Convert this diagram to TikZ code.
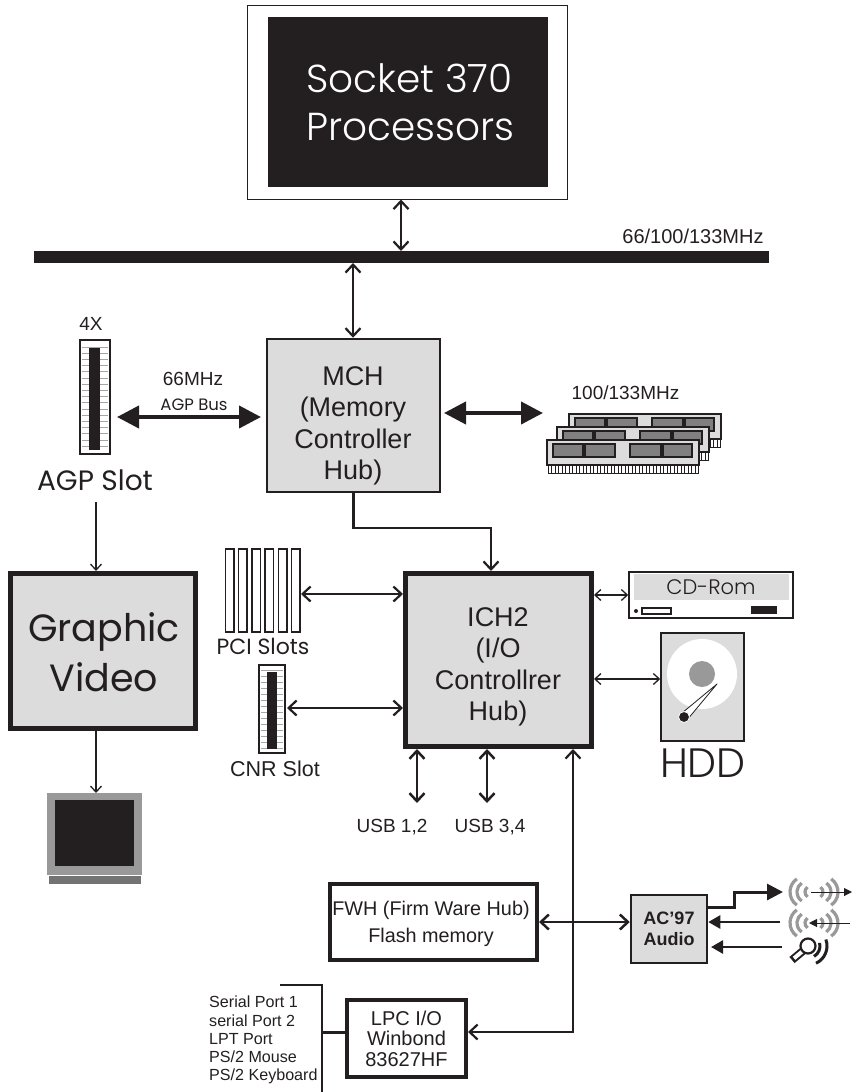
\documentclass[tikz,border=0pt]{standalone}
\usepackage{fontspec}
\setmainfont{Liberation Sans}
\newfontfamily\widefont{Poppins}[UprightFont=* Light]
\newfontfamily\solidfont{Poppins}
\usetikzlibrary{arrows.meta}
\definecolor{ink}{HTML}{231F20}
\definecolor{chipgray}{HTML}{DCDCDC}
\tikzset{
    box/.style={draw=ink,fill=chipgray,line width=2.5pt,outer sep=1.25pt,inner sep=0pt,text=ink,align=center},
    heavybox/.style={box,line width=5pt,outer sep=2.5pt},
    plainbox/.style={box,fill=white,line width=4pt,outer sep=2pt},
    tag/.style={text=ink,align=center,inner sep=0pt},
    widetag/.style={tag,font=\widefont},
    thinlink/.style={draw=ink,line width=1.3pt,>={Straight Barb[length=6pt,width=11pt]}},
    link/.style={draw=ink,line width=2.2pt,>={Straight Barb[length=8pt,width=15pt]}},
    biglink/.style={draw=ink,line width=4pt,>={Triangle[length=22pt,width=22pt]}},
    midlink/.style={draw=ink,line width=2.5pt,>={Triangle[length=12pt,width=13pt]}},
    outlink/.style={draw=ink,line width=3pt,>={Triangle[length=16pt,width=16pt]}},
    wave/.style={draw=black!40,line width=3.2pt},
}
\begin{document}
\begin{tikzpicture}[x=1pt,y=-1pt]
    \useasboundingbox (0,0) rectangle (853,1092);
    % processor
    \node[box,fill=white,line width=1pt,outer sep=.5pt,minimum width=320,minimum height=194] (socket) at (407,102) {};
    \node[fill=ink,minimum width=280,minimum height=170,inner sep=0pt,text=white,align=left,
        font=\widefont\fontsize{39}{48}\selectfont] (socketcore) at (408,102) {};
    \node[anchor=west,text=white,align=left,inner sep=0pt,
        font=\widefont\fontsize{39}{48}\selectfont] (sockettext) at (306,102) {Socket 370\\Processors};
    \node[fill=ink,minimum width=735,minimum height=12,inner sep=0pt,outer sep=0pt] (bus) at (401.5,257) {};
    \node[tag,font=\fontsize{20}{22}\selectfont] (fsb) at (693,236) {66/100/133MHz};
    \coordinate (busup) at (401,251);
    \coordinate (busdown) at (353,263);
    \draw[link,<->] (socket.south -| busup) -- (busup);

    % north side
    \node[box,minimum width=173,minimum height=153] (mch) at (353.5,415.5) {};
    \node[tag,font=\fontsize{27}{31.5}\selectfont] (mchtext) at (353,426) {MCH\\(Memory\\Controller\\Hub)};
    \draw[link,<->] (busdown) -- (mch.north -| busdown);

    \node[box,fill=white,outer sep=1.25pt,minimum width=30,minimum height=114] (agp) at (95,397) {};
    \foreach \i in {0,...,16} {
        \draw[black!35,line width=.8pt] (82,347+6.2*\i) -- (108,347+6.2*\i);
    }
    \node[fill=ink,minimum width=11,minimum height=102,inner sep=0pt] (agpcore) at (94.5,399) {};
    \node[tag,font=\fontsize{19}{22}\selectfont] (agpspeed) at (91,324) {4X};
    \node[tag,font=\solidfont\fontsize{28}{32}\selectfont] (agpname) at (95,480) {AGP Slot};
    \node[tag,font=\fontsize{19}{22}\selectfont] (agpclock) at (193,379) {66MHz};
    \node[tag,font=\solidfont\fontsize{16.5}{18}\selectfont] (agpbus) at (194,405) {AGP Bus};
    \coordinate (agpmid) at (117,417);
    \coordinate (mchleft) at (261,417);
    \draw[biglink,<->] (agpmid) -- (mchleft);

    \coordinate (mchright) at (444,413);
    \coordinate (ramport) at (543,413);
    \draw[biglink,<->] (mchright) -- (ramport);
    \node[tag,font=\fontsize{19}{22}\selectfont] (ramclock) at (625.5,393) {100/133MHz};
    \foreach \x/\y in {569/414,557/427,547/440} {
        \begin{scope}[shift={(\x,\y)}]
            \draw[ink,fill=white,line width=.6pt] (1,25) rectangle (151,33);
            \foreach \i in {1,...,42} {
                \draw[ink,line width=.6pt] (1+3.5*\i,25) -- (1+3.5*\i,33);
            }
            \draw[ink,fill=chipgray,line width=1.8pt] (0,0) rectangle (152,25);
            \foreach \a/\b in {6/36,38/68,83/114,116/145} {
                \draw[ink,fill=black!50,line width=2pt] (\a,4) rectangle (\b,17);
            }
        \end{scope}
    }

    % graphics
    \node[heavybox,minimum width=185,minimum height=155] (video) at (103,651) {};
    \node[tag,font=\solidfont\fontsize{38}{50}\selectfont] (videotext) at (104,652) {Graphic\\Video};
    \coordinate (videoline) at (96,502);
    \draw[thinlink,->] (videoline) -- (video.north -| videoline);
    \node[fill=black!40,minimum width=95,minimum height=82,inner sep=0pt,outer sep=0pt] (monitor) at (94.5,834) {};
    \node[fill=ink,minimum width=79,minimum height=66,inner sep=0pt] (screen) at (94.5,833) {};
    \node[fill=black!55,minimum width=92,minimum height=8,inner sep=0pt] (stand) at (95,880) {};
    \draw[thinlink,->] (video.south -| videoline) -- (monitor.north -| videoline);

    % south bridge
    \node[heavybox,minimum width=186,minimum height=173] (ich) at (498.5,660) {};
    \node[tag,font=\fontsize{27}{31.5}\selectfont] (ichtext) at (498,667) {ICH2\\(I/O\\Controllrer\\Hub)};
    \coordinate (ichtop) at (491,528);
    \draw[link,->] (mch.south) |- (ichtop) -- (ich.north -| ichtop);

    \foreach \i in {0,...,5} {
        \draw[ink,line width=1.5pt] (225.5+13.2*\i,549) rectangle ++(8.5,83);
    }
    \node[tag,font=\solidfont\fontsize{22}{26}\selectfont] (pcitext) at (263,646) {PCI Slots};
    \coordinate (pciport) at (301,594);
    \draw[link,<->] (pciport) -- (ich.west |- pciport);

    \node[box,fill=white,line width=1.6pt,outer sep=.8pt,minimum width=26,minimum height=88] (cnr) at (272,709) {};
    \foreach \i in {0,...,13} {
        \draw[black!35,line width=.8pt] (261,670+6*\i) -- (283,670+6*\i);
    }
    \node[fill=ink,minimum width=10,minimum height=77,inner sep=0pt] (cnrcore) at (272,710) {};
    \node[tag,font=\fontsize{21.5}{24}\selectfont] (cnrtext) at (275,769) {CNR Slot};
    \coordinate (cnrport) at (287,708);
    \draw[link,<->] (cnrport) -- (ich.west |- cnrport);

    \coordinate (usba) at (417,803);
    \coordinate (usbb) at (487,803);
    \draw[link,line width=2.5pt,<->] (ich.south -| usba) -- (usba);
    \draw[link,line width=2.5pt,<->] (ich.south -| usbb) -- (usbb);
    \node[tag,font=\fontsize{19}{22}\selectfont] (usbatext) at (392,827) {USB 1,2};
    \node[tag,font=\fontsize{19}{22}\selectfont] (usbbtext) at (490,827) {USB 3,4};

    % drives
    \node[box,fill=white,line width=1.5pt,outer sep=.75pt,minimum width=164,minimum height=46] (cdrom) at (711,595) {};
    \node[fill=chipgray,minimum width=155,minimum height=26,inner sep=0pt,text=ink,
        font=\widefont\fontsize{21}{24}\selectfont] (cdband) at (711,587) {CD-Rom};
    \node[circle,fill=ink,minimum size=4,inner sep=0pt] (cdled) at (636,611) {};
    \node[draw=ink,fill=white,line width=1.5pt,minimum width=29,minimum height=6,inner sep=0pt] (cdtray) at (656.5,611) {};
    \node[fill=ink,minimum width=26,minimum height=8,inner sep=0pt] (cdbutton) at (764,610) {};
    \coordinate (cdport) at (0,595);
    \draw[thinlink,<->] (ich.east |- cdport) -- (cdrom.west |- cdport);

    \node[box,line width=1.5pt,outer sep=.75pt,minimum width=83,minimum height=108] (hdd) at (702.5,687) {};
    \node[circle,fill=white,minimum size=70,inner sep=0pt] (platter) at (702,674) {};
    \node[circle,fill=black!40,minimum size=26,inner sep=0pt] (spindle) at (702,674) {};
    \draw[ink,fill=white,line width=.8pt,line join=round] (717,684) -- (682,713) -- (687,720) -- cycle;
    \node[circle,fill=ink,draw=white,line width=.8pt,minimum size=11,inner sep=0pt] (head) at (684,717) {};
    \node[widetag,font=\widefont\fontsize{41}{44}\selectfont] (hddtext) at (703,763) {HDD};
    \coordinate (hddport) at (0,679);
    \draw[thinlink,<->] (ich.east |- hddport) -- (hdd.west |- hddport);

    % low pin count side
    \node[plainbox,minimum width=207,minimum height=76] (fwh) at (433.5,921.5) {};
    \node[tag,font=\fontsize{19.8}{27}\selectfont] (fwhtext) at (431,924) {FWH (Firm Ware Hub)\\Flash memory};
    \node[box,minimum width=76,minimum height=68,font=\bfseries\fontsize{18}{21}\selectfont] (audio) at (669,929) {AC'97\\Audio};
    \coordinate (fwhport) at (539,922);
    \draw[link,line width=2.5pt,<->] (fwhport) -- (audio.west |- fwhport);

    \node[plainbox,minimum width=119,minimum height=77,font=\fontsize{20}{20.5}\selectfont] (lpc) at (406.5,1038.5) {LPC I/O\\Winbond\\83627HF};
    \coordinate (lpcbend) at (573,1032);
    \draw[link,<->] (ich.south -| lpcbend) -- (lpcbend) -- (lpc.east |- lpcbend);

    \coordinate (portstop) at (280,985);
    \coordinate (portscorner) at (322,985);
    \coordinate (portsend) at (322,1092);
    \draw[ink,line width=2.5pt] (portstop) -- (portscorner) -- (portsend);
    \draw[ink,line width=3pt] (lpc.west |- lpcbend) -- (portscorner |- lpcbend);
    \node[tag,anchor=north west,align=left,font=\fontsize{16.1}{18.2}\selectfont] (ports) at (209,996) {Serial Port 1\\serial Port 2\\LPT Port\\PS/2 Mouse\\PS/2 Keyboard};

    % audio ports
    \coordinate (outcorner) at (734,907);
    \coordinate (lineout) at (783,892);
    \coordinate (linein) at (780,922);
    \coordinate (micin) at (782,947);
    \coordinate (mictip) at (711,947);
    \draw[outlink,->] (audio.east |- outcorner) -- (outcorner) |- (lineout);
    \draw[midlink,->] (linein) -- (audio.east |- linein);
    \draw[midlink,->] (micin) -- (mictip);
    \foreach \y in {892,923} {
        \foreach \r/\d in {16/8,11/6,6/3} {
            \draw[wave] (814-\d,\y) ++({180-55}:\r) arc[start angle=125,end angle=235,radius=\r];
            \draw[wave] (814+\d,\y) ++(-55:\r) arc[start angle=-55,end angle=55,radius=\r];
        }
    }
    \coordinate (outstart) at (811,892);
    \coordinate (outtip) at (852,892);
    \coordinate (instart) at (850,923);
    \coordinate (intip) at (809,923);
    \draw[ink,line width=1pt,-{Triangle[length=8pt,width=8pt]}] (outstart) -- (outtip);
    \draw[ink,line width=1pt,-{Triangle[length=8pt,width=8pt]}] (instart) -- (intip);
    \draw[ink,line width=8pt] (792,960) -- (804,950);
    \draw[white,line width=4pt] (794,958.3) -- (804,950);
    \node[circle,draw=ink,fill=white,line width=2.2pt,minimum size=15,inner sep=0pt] (michead) at (808,946) {};
    \draw[ink,line width=3pt] (808,946) ++(-15:12) arc[start angle=-15,end angle=60,radius=12];
    \draw[ink,line width=3pt] (808,946) ++(-20:19) arc[start angle=-20,end angle=65,radius=19];
\end{tikzpicture}
\end{document}
